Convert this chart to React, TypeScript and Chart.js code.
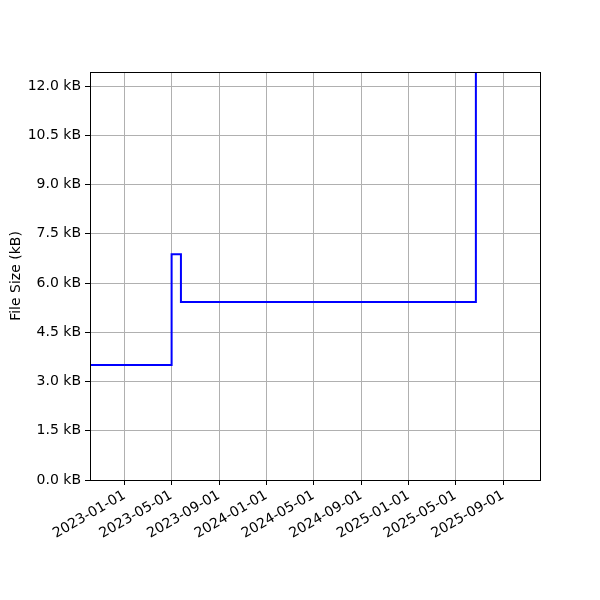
import React, { useEffect, useRef } from "react";
import { Chart, registerables } from "chart.js";

Chart.register(...registerables);

const d = (s: string) => Date.parse(s + "T00:00:00Z");

const stepDates = ["2022-09-01", "2023-05-02", "2023-05-26", "2025-06-23"];
const stepSizes = [3.5, 6.88, 5.42, 20.0];

const xTickDates = [
  "2023-01-01", "2023-05-01", "2023-09-01", "2024-01-01", "2024-05-01",
  "2024-09-01", "2025-01-01", "2025-05-01", "2025-09-01",
];
const yTicks = [0, 1.5, 3.0, 4.5, 6.0, 7.5, 9.0, 10.5, 12.0];

const xMin = "2022-10-04";
const xMax = "2025-12-05";
const yMax = 12.43;

const fontFamily = "'DejaVu Sans', sans-serif";

const boxPlugin = {
  id: "box",
  afterDatasetsDraw(chart: any) {
    const { ctx, chartArea } = chart;
    ctx.save();
    ctx.strokeStyle = "#000";
    ctx.lineWidth = 1;
    ctx.strokeRect(
      Math.round(chartArea.left) + 0.5,
      Math.round(chartArea.top) + 0.5,
      Math.round(chartArea.right - chartArea.left),
      Math.round(chartArea.bottom - chartArea.top)
    );
    ctx.restore();
  },
};

export default function App() {
  const ref = useRef<HTMLCanvasElement>(null);
  useEffect(() => {
    document.body.style.margin = "0";
    const data = stepDates.map((s, i) => ({ x: d(s), y: stepSizes[i] }));
    const chart = new Chart(ref.current!, {
      type: "line",
      data: {
        datasets: [
          {
            data,
            borderColor: "#0000ff",
            borderWidth: 2,
            pointRadius: 0,
            stepped: "before",
            fill: false,
          },
        ],
      },
      options: {
        animation: false,
        responsive: false,
        maintainAspectRatio: false,
        layout: { padding: { top: 72, right: 60, left: 0, bottom: 0 } },
        plugins: { legend: { display: false }, tooltip: { enabled: false } },
        scales: {
          x: {
            type: "linear",
            min: d(xMin),
            max: d(xMax),
            afterBuildTicks: (scale: any) => {
              scale.ticks = xTickDates.map((s) => ({ value: d(s) }));
            },
            afterFit: (scale: any) => {
              scale.height = 120;
            },
            ticks: {
              autoSkip: false,
              minRotation: 30,
              maxRotation: 30,
              padding: 2,
              color: "#000",
              font: { family: fontFamily, size: 14 },
              callback: (v: any) => new Date(v).toISOString().slice(0, 10),
            },
            grid: {
              color: "#b0b0b0",
              lineWidth: 1,
              tickColor: "#000",
              tickLength: 5,
            },
            border: { display: true, color: "#000", width: 1 },
          },
          y: {
            type: "linear",
            min: 0,
            max: yMax,
            afterBuildTicks: (scale: any) => {
              scale.ticks = yTicks.map((v) => ({ value: v }));
            },
            afterFit: (scale: any) => {
              scale.width = 90;
            },
            ticks: {
              padding: 4,
              color: "#000",
              font: { family: fontFamily, size: 14 },
              callback: (v: any) => Number(v).toFixed(1) + " kB",
            },
            grid: {
              color: "#b0b0b0",
              lineWidth: 1,
              tickColor: "#000",
              tickLength: 5,
            },
            border: { display: true, color: "#000", width: 1 },
            title: {
              display: true,
              text: "File Size (kB)",
              color: "#000",
              font: { family: fontFamily, size: 14 },
              padding: { top: 8, bottom: 0 },
            },
          },
        },
      },
      plugins: [boxPlugin],
    });
    return () => chart.destroy();
  }, []);
  return (
    <div style={{ width: 600, height: 600 }}>
      <canvas ref={ref} width={600} height={600} style={{ width: 600, height: 600 }} />
    </div>
  );
}
